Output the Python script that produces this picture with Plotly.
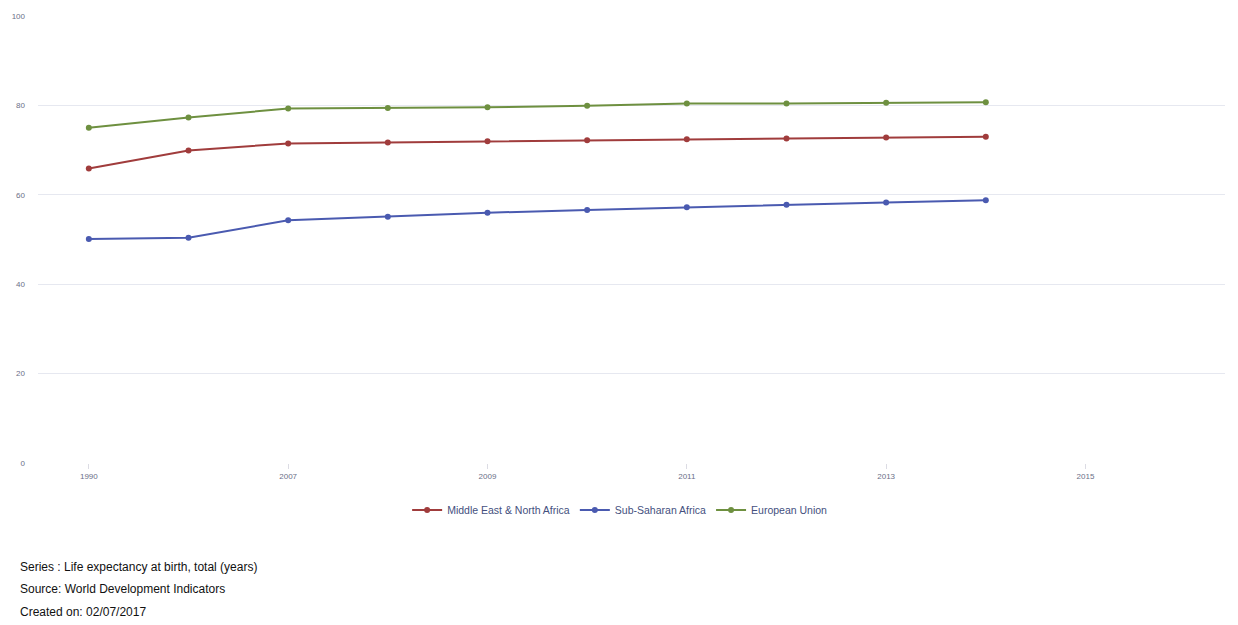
import plotly.graph_objects as go

# Life expectancy at birth, total (years)
years = ["1990", "2000", "2007", "2008", "2009", "2010", "2011", "2012", "2013", "2014", "2015"]
tick_years = ["1990", "2007", "2009", "2011", "2013", "2015"]

mena = [65.9, 69.9, 71.5, 71.7, 72.0, 72.2, 72.4, 72.6, 72.8, 73.0]
ssa = [50.1, 50.4, 54.3, 55.1, 56.0, 56.6, 57.2, 57.8, 58.3, 58.8]
eu = [75.0, 77.3, 79.3, 79.4, 79.6, 79.9, 80.4, 80.4, 80.6, 80.7]

series = [
    ("Middle East & North Africa", mena, "#a03c3c"),
    ("Sub-Saharan Africa", ssa, "#4a5ab0"),
    ("European Union", eu, "#6e9040"),
]

fig = go.Figure()
for name, vals, color in series:
    fig.add_trace(go.Scatter(
        x=years[:len(vals)], y=vals, name=name, mode="lines+markers",
        line=dict(color=color, width=2),
        marker=dict(color=color, size=6),
    ))

fig.update_layout(
    width=1238, height=625,
    margin=dict(l=37, r=13, t=14, b=162),
    paper_bgcolor="white", plot_bgcolor="white",
    font=dict(family="Liberation Sans, Arial, sans-serif", size=8, color="#6b6f88"),
    showlegend=True,
    legend=dict(
        orientation="h", x=0.49, y=-0.105, xanchor="center", yanchor="middle",
        font=dict(size=10.5, color="#44507e"), itemwidth=30,
    ),
    xaxis=dict(
        type="category", categoryorder="array", categoryarray=years,
        range=[-0.51, 11.4],
        tickmode="array", tickvals=tick_years, ticktext=tick_years,
        showgrid=False, zeroline=False, showline=False,
        ticks="outside", ticklen=5, tickcolor="#dcdce4",
        tickfont=dict(size=8, color="#6b6f88"),
    ),
    yaxis=dict(
        range=[0, 100], tickvals=[0, 20, 40, 60, 80, 100],
        showgrid=True, gridcolor="#e6e8f0", gridwidth=1,
        zeroline=False, showline=False,
        ticklabelstandoff=12,
        tickfont=dict(size=8, color="#6b6f88"),
    ),
)

footer = [
    "Series : Life expectancy at birth, total (years)",
    "Source: World Development Indicators",
    "Created on: 02/07/2017",
]
for i, line in enumerate(footer):
    fig.add_annotation(
        text=line, xref="paper", yref="paper",
        x=-0.0168, y=-0.2316 - i * 0.0512,
        xanchor="left", yanchor="middle", showarrow=False,
        font=dict(size=12, color="#111111", family="Liberation Sans, Arial, sans-serif"),
    )

fig.write_html("out.html")
